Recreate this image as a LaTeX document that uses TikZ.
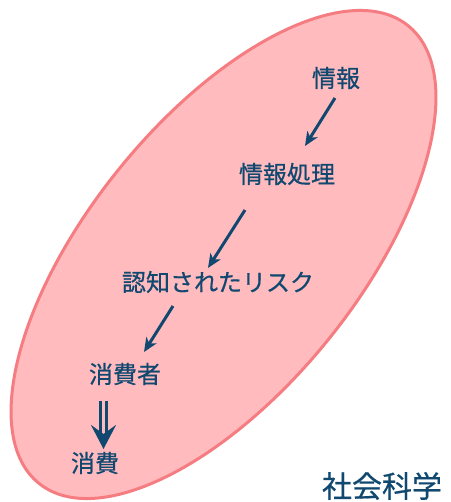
\documentclass[tikz,border=0pt]{standalone}
\usepackage{fontspec}
\newfontfamily\jp[FakeBold=0.6]{Noto Sans CJK JP}
\usetikzlibrary{arrows.meta}
\definecolor{txt}{RGB}{16,72,112}
\definecolor{ellfill}{RGB}{255,187,190}
\definecolor{elldraw}{RGB}{245,125,130}
\begin{document}
\begin{tikzpicture}[x=1pt,y=-1pt,
  lbl/.style={text=txt,font=\jp\fontsize{24}{27}\selectfont,inner sep=0pt,anchor=center},
  arr/.style={draw=txt,line width=3pt,-{Stealth[length=14pt,width=12pt,inset=4pt]}},
  darr/.style={draw=txt,line width=3.4pt,double=ellfill,double distance=3pt,-{Stealth[length=24pt,width=25pt,inset=9pt]}}]
\useasboundingbox (0,0) rectangle (450,502);
\draw[fill=ellfill,draw=elldraw,line width=3pt,rotate around={51.1:(223.5,254.5)}]
  (223.5,254.5) ellipse [x radius=294, y radius=135];
\node[lbl] (info) at (336,78) {情報};
\node[lbl] (proc) at (287,174) {情報処理};
\node[lbl] (risk) at (218,282) {認知されたリスク};
\node[lbl] (cons) at (125,374) {消費者};
\node[lbl] (use) at (95,463) {消費};
\node[text=txt,font=\jp\fontsize{30}{34}\selectfont,inner sep=0pt] (soc) at (382,486) {社会科学};
\coordinate (a1s) at (335,98);
\coordinate (a1e) at (305,146);
\coordinate (a2s) at (245,210);
\coordinate (a2e) at (208,268);
\coordinate (a3s) at (173,306);
\coordinate (a3e) at (144,352);
\coordinate (a4s) at (103.5,401);
\coordinate (a4e) at (103.5,449);
\draw[arr] (a1s) -- (a1e);
\draw[arr] (a2s) -- (a2e);
\draw[arr] (a3s) -- (a3e);
\draw[darr] (a4s) -- (a4e);
\end{tikzpicture}
\end{document}
